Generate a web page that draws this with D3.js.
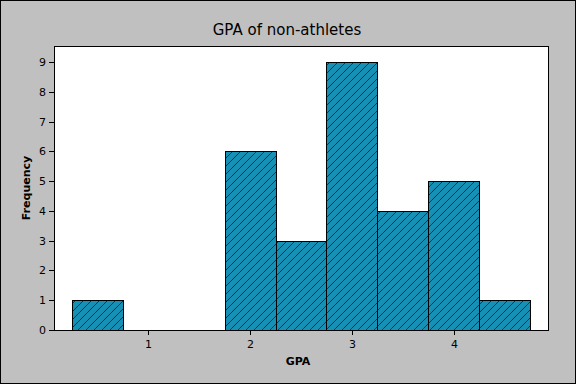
<!DOCTYPE html>
<html><head><meta charset="utf-8">
<script src="https://cdn.jsdelivr.net/npm/d3@7"></script>
<style>html,body{margin:0;padding:0;background:#c0c0c0;}svg{display:block;}</style>
</head><body>
<script>
const binStarts = [0.25, 0.75, 1.25, 1.75, 2.25, 2.75, 3.25, 3.75, 4.25];
const binWidth = 0.5;
const counts = [1, 0, 0, 6, 3, 9, 4, 5, 1];
const xTicks = [1, 2, 3, 4];
const yTicks = [0, 1, 2, 3, 4, 5, 6, 7, 8, 9];
const title = "GPA of non-athletes";
const xLabel = "GPA";
const yLabel = "Frequency";

const W = 576, H = 384;
const svg = d3.select("body").append("svg").attr("width", W).attr("height", H);
svg.append("rect").attr("x", 0.5).attr("y", 0.5).attr("width", W - 1).attr("height", H - 1)
  .attr("fill", "#c0c0c0").attr("stroke", "#000");

const L = 54, R = 548, T = 46, B = 330;
const x = d3.scaleLinear().domain([0.078, 4.922]).range([L, R]);
const y = d3.scaleLinear().domain([0, 9.54]).range([B, T]);

const defs = svg.append("defs");
const pat = defs.append("pattern").attr("id", "hatch").attr("patternUnits", "userSpaceOnUse")
  .attr("width", 8).attr("height", 8);
pat.append("rect").attr("width", 8).attr("height", 8).attr("fill", "#1690b5");
pat.append("path").attr("d", "M0,8 L8,0 M-2,2 L2,-2 M6,10 L10,6")
  .attr("stroke", "#000").attr("stroke-width", 0.9).attr("stroke-dasharray", "1,0.5");

svg.append("rect").attr("x", L).attr("y", T).attr("width", R - L).attr("height", B - T)
  .attr("fill", "#fff").attr("stroke", "#000").attr("shape-rendering", "crispEdges");

svg.selectAll("rect.bar").data(binStarts.map((s, i) => ({s, c: counts[i]})).filter(d => d.c > 0))
  .enter().append("rect").attr("class", "bar")
  .attr("x", d => Math.round(x(d.s)) + 0.5)
  .attr("y", d => Math.round(y(d.c)) + 0.5)
  .attr("width", d => Math.round(x(d.s + binWidth)) - Math.round(x(d.s)))
  .attr("height", d => Math.round(y(0)) - Math.round(y(d.c)))
  .attr("fill", "url(#hatch)").attr("stroke", "#000").attr("stroke-width", 1);

const font = "'DejaVu Sans', Verdana, sans-serif";
const xAxis = svg.append("g").attr("transform", `translate(0,${B})`)
  .call(d3.axisBottom(x).tickValues(xTicks).tickFormat(d3.format("d")).tickSize(5).tickPadding(5));
const yAxis = svg.append("g").attr("transform", `translate(${L},0)`)
  .call(d3.axisLeft(y).tickValues(yTicks).tickFormat(d3.format("d")).tickSize(5).tickPadding(3));
[xAxis, yAxis].forEach(g => {
  g.select(".domain").remove();
  g.selectAll("line").attr("stroke", "#000").attr("shape-rendering", "crispEdges");
  g.selectAll("text").attr("fill", "#000").style("font-family", font).style("font-size", "11px");
});
svg.append("line").attr("x1", L).attr("x2", R).attr("y1", B + 0.5).attr("y2", B + 0.5).attr("stroke", "#000");
svg.append("line").attr("x1", L + 0.5).attr("x2", L + 0.5).attr("y1", T).attr("y2", B).attr("stroke", "#000");

svg.append("text").attr("x", 287).attr("y", 35).attr("text-anchor", "middle")
  .style("font-family", font).style("font-size", "15px").attr("fill", "#000").text(title);
svg.append("text").attr("x", 298).attr("y", 365).attr("text-anchor", "middle")
  .style("font-family", font).style("font-size", "11px").style("font-weight", "bold").attr("fill", "#000").text(xLabel);
svg.append("text").attr("transform", "translate(30,188) rotate(-90)").attr("text-anchor", "middle")
  .style("font-family", font).style("font-size", "11px").style("font-weight", "bold").attr("fill", "#000").text(yLabel);
</script>
</body></html>
